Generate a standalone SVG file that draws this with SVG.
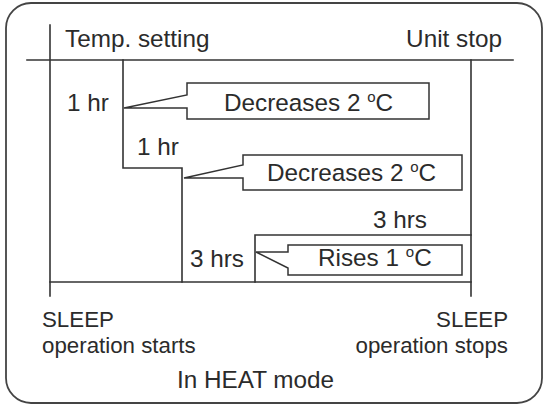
<svg xmlns="http://www.w3.org/2000/svg" width="550" height="410" viewBox="0 0 550 410">
<style>
.ln{fill:none;stroke:#333;stroke-width:1.6;stroke-linecap:square}
.co{fill:#fff;stroke:#333;stroke-width:1.5;stroke-linejoin:miter}
.t{font-family:"Liberation Sans",Arial,sans-serif;font-size:24.3px;fill:#2b2b2b}
.s{font-family:"Liberation Sans",Arial,sans-serif;font-size:22.3px;fill:#2b2b2b}
.sup{font-size:15px}
</style>
<rect id="frame" x="6" y="3" width="536" height="400" rx="25" ry="25" fill="#fff" stroke="#444" stroke-width="1.8"/>
<g id="connectors">
<path class="ln" d="M50,25 V296"/>
<path class="ln" d="M27,60 H513"/>
<path class="ln" d="M471,60 V296"/>
<path class="ln" d="M50,282 H471"/>
<path class="ln" d="M123,60 V168 H182 V282"/>
<path class="ln" d="M255,282 V235 H471"/>
</g>
<g id="axis-labels">
<text class="t" x="65" y="47">Temp. setting</text>
<text class="t" x="502" y="47" text-anchor="end">Unit stop</text>
</g>
<g id="step1">
<text class="t" x="67" y="111">1 hr</text>
<path class="co" d="M187,95 V83 H429 V119 H187 V108 H124 Z"/>
<text class="t" x="224" y="111">Decreases 2 <tspan class="sup" dy="-9">o</tspan><tspan dy="9">C</tspan></text>
</g>
<g id="step2">
<text class="t" x="137" y="155">1 hr</text>
<path class="co" d="M243,165 V155 H462 V190 H243 V178 H184 Z"/>
<text class="t" x="267" y="181">Decreases 2 <tspan class="sup" dy="-9">o</tspan><tspan dy="9">C</tspan></text>
</g>
<g id="step3">
<text class="t" x="190" y="267">3 hrs</text>
<text class="t" x="373" y="228">3 hrs</text>
<path class="co" d="M288,252 V245 H462 V275 H288 V268 L256,252 Z"/>
<text class="t" x="318" y="266">Rises 1 <tspan class="sup" dy="-9">o</tspan><tspan dy="9">C</tspan></text>
</g>
<g id="start-label">
<text class="s" x="42" y="327">SLEEP</text>
<text class="s" x="42" y="353">operation starts</text>
</g>
<g id="stop-label">
<text class="s" x="508" y="327" text-anchor="end">SLEEP</text>
<text class="s" x="508" y="353" text-anchor="end">operation stops</text>
</g>
<g id="caption">
<text class="t" x="177" y="388">In HEAT mode</text>
</g>
</svg>
